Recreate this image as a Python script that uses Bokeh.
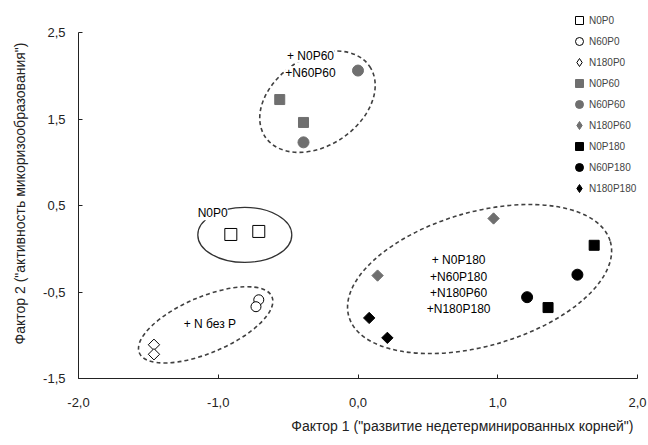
import math
from bokeh.plotting import figure
from bokeh.models import ColumnDataSource, Range1d, FixedTicker, Legend, LegendItem, Label, Title
from bokeh.embed import file_html
from bokeh.resources import INLINE

# ---------------- data ----------------
series = ["N0P0", "N60P0", "N180P0", "N0P60", "N60P60", "N180P60", "N0P180", "N60P180", "N180P180"]

n0p0_f1 = [-0.91, -0.71]
n0p0_f2 = [0.165, 0.20]
n60p0_f1 = [-0.71, -0.73]
n60p0_f2 = [-0.59, -0.67]
n180p0_f1 = [-1.46, -1.46]
n180p0_f2 = [-1.11, -1.22]
n0p60_f1 = [-0.56, -0.39]
n0p60_f2 = [1.725, 1.46]
n60p60_f1 = [0.00, -0.39]
n60p60_f2 = [2.06, 1.23]
n180p60_f1 = [0.97, 0.14]
n180p60_f2 = [0.35, -0.31]
n0p180_f1 = [1.69, 1.36]
n0p180_f2 = [0.04, -0.68]
n60p180_f1 = [1.57, 1.21]
n60p180_f2 = [-0.30, -0.56]
n180p180_f1 = [0.08, 0.21]
n180p180_f2 = [-0.80, -1.03]

x_ticks = [-2, -1, 0, 1, 2]
x_tick_labels = ["-2,0", "-1,0", "0,0", "1,0", "2,0"]
y_ticks = [-1.5, -0.5, 0.5, 1.5, 2.5]
y_tick_labels = ["-1,5", "-0,5", "0,5", "1,5", "2,5"]

x_title = 'Фактор 1 ("развитие недетерминированных корней")'
y_title = 'Фактор 2 ("активность микоризообразования")'

group_texts = ["N0P0", "+ N0P60", "+N60P60", "+ N без P",
               "+ N0P180", "+N60P180", "+N180P60", "+N180P180"]

# ---------------- annotation layout ----------------
group_text_x = [-1.04, -0.34, -0.34, -1.06, 0.72, 0.72, 0.72, 0.72]
group_text_y = [0.41, 2.23, 2.03, -0.875, -0.135, -0.33, -0.515, -0.70]
group_text_bg = [True, True, True, False, False, False, False, False]

solid_ell = dict(x=[-0.81], y=[0.16], w=[94], h=[55], a=[0.0])
dashed_ell = dict(x=[-0.29, -1.09, 0.87], y=[1.70, -0.88, -0.35],
                  w=[126, 144, 272], h=[88, 56, 134],
                  a=[math.radians(34), math.radians(23), math.radians(16)])

GRAY = "#6f6f6f"
FONT = "Liberation Sans"
NAN = float("nan")
series_xy = [(n0p0_f1, n0p0_f2), (n60p0_f1, n60p0_f2), (n180p0_f1, n180p0_f2),
             (n0p60_f1, n0p60_f2), (n60p60_f1, n60p60_f2), (n180p60_f1, n180p60_f2),
             (n0p180_f1, n0p180_f2), (n60p180_f1, n60p180_f2), (n180p180_f1, n180p180_f2)]
# plot marker, size, angle, fill, line, legend marker, legend size
styles = [
    ("square", 12, 0.0, "white", "black", "square", 8),
    ("circle", 10, 0.0, "white", "black", "circle", 8),
    ("square", 8, math.pi / 4, "white", "black", "diamond", 11),
    ("square", 10, 0.0, GRAY, GRAY, "square", 8),
    ("circle", 11, 0.0, GRAY, GRAY, "circle", 8),
    ("square", 8, math.pi / 4, GRAY, GRAY, "diamond", 11),
    ("square", 10, 0.0, "black", "black", "square", 8),
    ("circle", 11, 0.0, "black", "black", "circle", 8),
    ("square", 8, math.pi / 4, "black", "black", "diamond", 11),
]

PX_PER_Y = 86.5          # vertical scale of the reference
TOP_PAD_PX = 24          # free space above 2,5 (for the legend)

p = figure(width=648, height=445, x_range=Range1d(-2, 2),
           y_range=Range1d(-1.5, 2.5 + TOP_PAD_PX / PX_PER_Y),
           output_backend="svg", toolbar_location=None,
           min_border_left=78, min_border_right=11, min_border_top=8, min_border_bottom=67)
p.outline_line_color = None
p.xgrid.visible = False
p.ygrid.visible = False
p.background_fill_color = "white"
p.border_fill_color = "white"

# ellipses
p.ellipse(x="x", y="y", width="w", height="h", angle="a", width_units="screen",
          height_units="screen", source=ColumnDataSource(solid_ell),
          fill_color=None, line_color="#333333", line_width=1.3)
p.ellipse(x="x", y="y", width="w", height="h", angle="a", width_units="screen",
          height_units="screen", source=ColumnDataSource(dashed_ell),
          fill_color=None, line_color="#404040", line_width=1.6, line_dash="4 3")

items = []
for name, (xs, ys), (mk, sz, ang, fc, lc, lmk, lsz) in zip(series, series_xy, styles):
    p.scatter(x=xs, y=ys, marker=mk, size=sz, angle=ang, fill_color=fc,
              line_color=lc, line_width=1)
    # legend symbol (a placeholder that is never drawn in the plot area)
    lr = p.scatter(x=[NAN], y=[NAN], marker=lmk, size=lsz, fill_color=fc,
                   line_color=lc, line_width=1)
    items.append(LegendItem(label=name, renderers=[lr]))

for t, tx, ty, bg in zip(group_texts, group_text_x, group_text_y, group_text_bg):
    lab = Label(x=tx, y=ty, text=t, text_align="center", text_baseline="middle",
                text_font=FONT, text_font_size="12px", text_color="black")
    if bg:
        lab.background_fill_color = "white"
    p.add_layout(lab)

legend = Legend(items=items, location=(491, 180), orientation="vertical",
                glyph_width=20, glyph_height=20, label_height=20, spacing=1,
                padding=0, margin=0, label_standoff=0,
                border_line_color=None, background_fill_alpha=0,
                label_text_font=FONT, label_text_font_size="10px")
p.add_layout(legend)

for ax, ticks, labels in ((p.xaxis[0], x_ticks, x_tick_labels), (p.yaxis[0], y_ticks, y_tick_labels)):
    ax.ticker = FixedTicker(ticks=ticks)
    ax.major_label_overrides = {t: l for t, l in zip(ticks, labels)}
    ax.minor_tick_line_color = None
    ax.major_tick_in = 4
    ax.major_tick_out = 0
    ax.axis_line_color = "#222222"
    ax.major_tick_line_color = "#222222"
    ax.major_label_text_font = FONT
    ax.major_label_text_font_size = "13px"
    ax.major_label_text_color = "#222222"
    ax.axis_label_text_font = FONT
    ax.axis_label_text_font_size = "14px"
    ax.axis_label_text_font_style = "normal"
    ax.axis_label_text_color = "#222222"

p.yaxis[0].bounds = (-1.5, 2.5)
p.xaxis[0].major_label_standoff = 19
p.yaxis[0].major_label_standoff = 13
p.yaxis[0].axis_label = y_title
p.yaxis[0].axis_label_standoff = 12

p.add_layout(Title(text=x_title, align="right", text_font=FONT, text_font_size="14px",
                   text_font_style="normal", text_color="#222222",
                   standoff=12, offset=4), "below")

open("out.html", "w").write(file_html(p, INLINE))
